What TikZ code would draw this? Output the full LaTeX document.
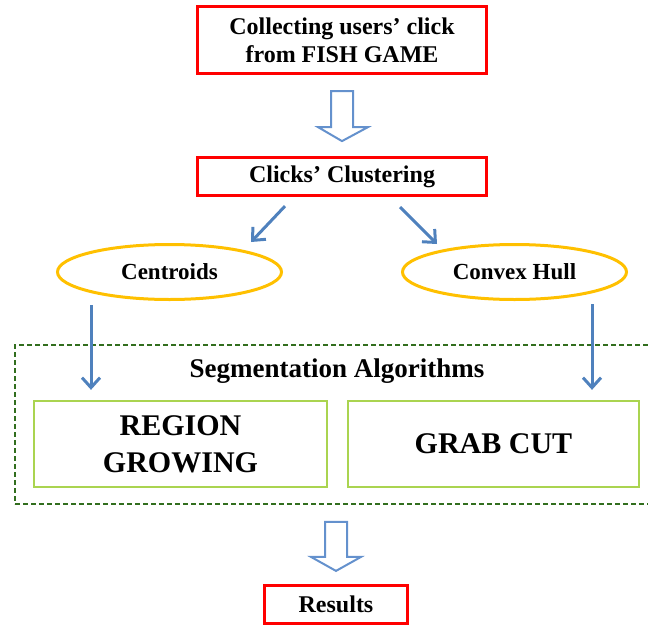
\documentclass[tikz,border=0pt]{standalone}
\usepackage{fontspec}
\setmainfont{Liberation Serif}
\usetikzlibrary{arrows.meta,shapes.geometric,calc}
\definecolor{boxred}{RGB}{255,0,0}
\definecolor{ellorange}{RGB}{255,192,0}
\definecolor{arrblue}{RGB}{79,129,189}
\definecolor{hollowblue}{RGB}{100,145,205}
\definecolor{algogreen}{RGB}{170,212,80}
\definecolor{dashgreen}{RGB}{50,110,30}
\tikzset{
  redbox/.style={draw=boxred, line width=3.2pt, rectangle, inner sep=0pt, align=center,
    font=\fontsize{24}{28}\selectfont\bfseries},
  ellbox/.style={draw=ellorange, line width=3pt, ellipse, inner sep=0pt,
    minimum width=224pt, minimum height=55pt, font=\fontsize{23}{28}\selectfont\bfseries},
  algobox/.style={draw=algogreen, line width=1.8pt, rectangle, inner sep=0pt, align=center,
    minimum height=86.5pt, font=\fontsize{30}{37}\selectfont\bfseries},
  dashbox/.style={draw=dashgreen, line width=1.8pt, dash pattern=on 5pt off 3pt, rectangle, inner sep=0pt},
  bluearr/.style={draw=arrblue, line width=3pt, -{Straight Barb[length=10pt,width=18pt]}},
  hollowarr/.style={draw=hollowblue, line width=2pt, fill=white, line join=miter},
}
\begin{document}
\begin{tikzpicture}[x=1pt,y=-1pt]
\useasboundingbox (0,0) rectangle (648,627);
\clip (0,0) rectangle (648,627);

\node[redbox, minimum width=289pt, minimum height=67pt] (collect) at (342,40)
  {Collecting users’ click\\from FISH GAME};
\node[redbox, minimum width=289pt, minimum height=38pt] (clust) at (342,176.5)
  {Clicks’ Clustering};
\node[ellbox] (cent) at (169.5,272) {Centroids};
\node[ellbox] (hull) at (514.5,272) {Convex Hull};

\node[dashbox, minimum width=645pt, minimum height=159pt] (seg) at (337.5,424.5) {};
\node[anchor=base, font=\fontsize{27}{30}\selectfont\bfseries] (segtitle) at (337,377)
  {Segmentation Algorithms};

\node[algobox, minimum width=293.5pt] (region) at (180.5,444) {REGION\\GROWING};
\node[algobox, minimum width=291.5pt] (grab) at (493.5,444) {GRAB CUT};

\node[redbox, minimum width=143pt, minimum height=38pt] (results) at (336,604.5) {Results};

% hollow block arrows
\draw[hollowarr] ($(collect.south)+(-11,16)$) -- ++(22,0) -- ++(0,36) -- ++(15,0)
  -- ++(-26,14) -- ++(-24,-14) -- ++(13,0) -- cycle;
\draw[hollowarr] ($(results.north)+(-11,-62)$) -- ++(22,0) -- ++(0,35) -- ++(14,0)
  -- ++(-25,14) -- ++(-25,-14) -- ++(14,0) -- cycle;

% blue arrows
\draw[bluearr] ([xshift=-57pt,yshift=-9pt]clust.south) -- ([xshift=81.5pt,yshift=30pt]cent.center);
\draw[bluearr] ([xshift=58pt,yshift=-10pt]clust.south) -- ([xshift=-77.5pt,yshift=28pt]hull.center);
\draw[bluearr] ([xshift=-78.5pt,yshift=-4pt]cent.south) -- ([xshift=-89.5pt,yshift=10pt]region.north);
\draw[bluearr] ([xshift=77.5pt,yshift=-3pt]hull.south) -- ([xshift=98.5pt,yshift=10pt]grab.north);
\end{tikzpicture}
\end{document}
